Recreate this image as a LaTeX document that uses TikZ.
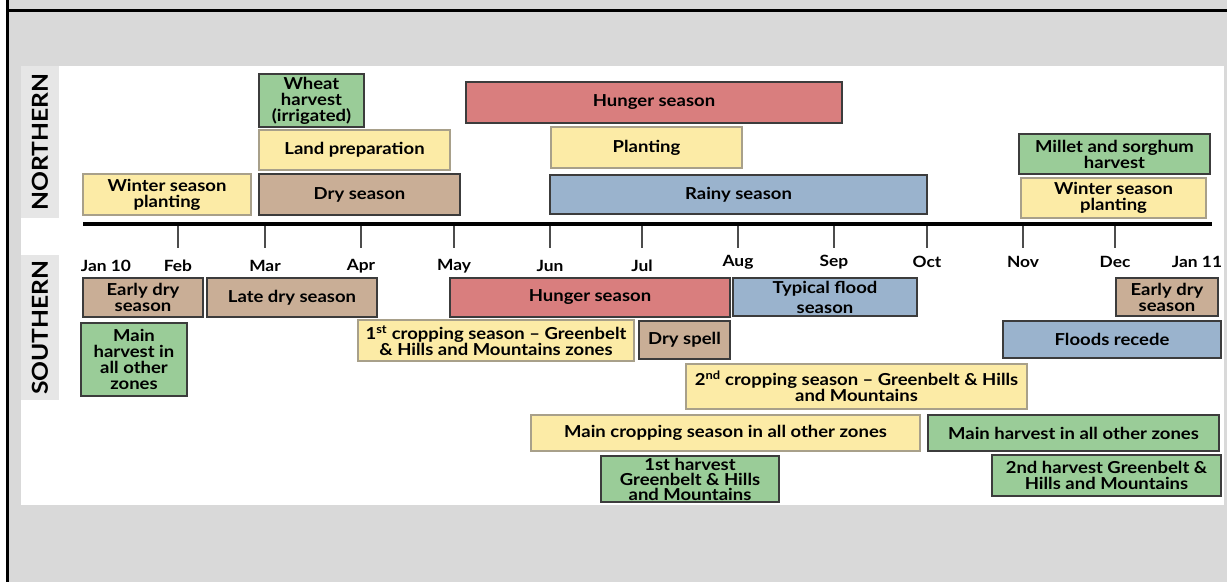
\documentclass[tikz,border=0pt]{standalone}
\usepackage{fontspec}
\setmainfont{Lato}[FakeStretch=1.12]
\definecolor{pageGray}{HTML}{D9D9D9}
\definecolor{sideGray}{HTML}{E6E6E6}
\definecolor{edgeDark}{HTML}{3C3C3C}
\definecolor{edgeLight}{HTML}{A8A08A}
\definecolor{cropYellow}{HTML}{FCEBA6}
\definecolor{harvGreen}{HTML}{9ACC98}
\definecolor{hungerRed}{HTML}{D97E7E}
\definecolor{dryTan}{HTML}{C9AE96}
\definecolor{wetBlue}{HTML}{9AB3CD}
\begin{document}
\begin{tikzpicture}[x=1pt, y=-1pt, font=\bfseries\fontsize{16.5}{16}\selectfont,
  box/.style={draw=edgeDark, line width=1.3pt, inner sep=0pt, align=center},
  wh/.style 2 args={minimum width=#1pt, minimum height=#2pt},
  yellowbox/.style={box, fill=cropYellow, draw=edgeLight},
  greenbox/.style={box, fill=harvGreen},
  redbox/.style={box, fill=hungerRed},
  tanbox/.style={box, fill=dryTan},
  bluebox/.style={box, fill=wetBlue},
  month/.style={inner sep=0pt, font=\bfseries\fontsize{15.5}{16}\selectfont},
  tick/.style={draw=black!70, line width=1.2pt},
  side/.style={fill=sideGray, rotate=90, inner sep=0pt, font=\bfseries\fontsize{22}{22}\selectfont}]
  \useasboundingbox (0,0) rectangle (1227,582);
  % page and white panel
  \fill[pageGray] (7,0) rectangle (1227,582);
  \draw[line width=3pt] (7,0) -- (7,582);
  \draw[line width=3pt] (7,10) -- (1227,10);
  \fill[white] (21,66) rectangle (1224,505);
  % region labels
  \node[side, wh={152}{38}] (north) at (40,142) {NORTHERN};
  \node[side, wh={145}{38}] (south) at (40,327.5) {SOUTHERN};
  % time axis
  \coordinate (axL) at (83,224);
  \coordinate (axR) at (1212,224);
  \draw[line width=4pt] (axL) -- (axR);
  \node[month] (mJanA) at (106,266) {Jan 10};
  \node[month] (mJanB) at (1197,262) {Jan 11};
  \foreach \x/\m/\yy in {178/Feb/266, 265/Mar/266, 361/Apr/266, 454/May/266, 550/Jun/266, 642/Jul/266,
      738/Aug/262, 834/Sep/262, 927/Oct/262, 1023/Nov/262, 1115/Dec/262} {
    \node[month] (m\m) at (\x,\yy) {\m};
    \coordinate (t\m) at (\x,226);
    \draw[tick] (t\m) -- ++(0,22);
  }
  % northern calendar
  \node[greenbox, wh={105}{53}] (nWheat) at (311.5,100.5) {Wheat\\harvest\\(irrigated)};
  \node[yellowbox, wh={191}{40}] (nLand) at (354.5,150) {Land preparation};
  \node[tanbox, wh={201}{41}] (nDry) at (359.5,194.5) {Dry season};
  \node[yellowbox, wh={168}{41}] (nWinterL) at (167,194.5) {Winter season\\planting};
  \node[redbox, wh={376}{41}] (nHunger) at (654,102.5) {Hunger season};
  \node[yellowbox, wh={191}{41}] (nPlant) at (646.5,147.5) {Planting};
  \node[bluebox, wh={377}{39}] (nRainy) at (738.5,194.5) {Rainy season};
  \node[greenbox, wh={191}{40}] (nMillet) at (1114.5,154) {Millet and sorghum\\harvest};
  \node[yellowbox, wh={185}{40}] (nWinterR) at (1113.5,198) {Winter season\\planting};
  % southern calendar
  \node[tanbox, wh={120}{39}] (sEarlyL) at (143,297.5) {Early dry\\season};
  \node[tanbox, wh={170}{39}] (sLate) at (292,297.5) {Late dry season};
  \node[greenbox, wh={106}{73}] (sHarvL) at (134,359.5) {Main\\harvest in\\all other\\zones};
  \node[yellowbox, wh={276}{41}] (sCrop1) at (496,340.5) {1\textsuperscript{st} cropping season -- Greenbelt\\\& Hills and Mountains zones};
  \node[redbox, wh={280}{39}] (sHunger) at (590,297.5) {Hunger season};
  \node[tanbox, wh={91}{38}] (sDrySpell) at (684.5,340) {Dry spell};
  \node[bluebox, wh={184}{38}, font=\bfseries\fontsize{16.5}{20}\selectfont] (sFlood) at (825,297) {Typical flood\\season};
  \node[tanbox, wh={102}{38}] (sEarlyR) at (1167,297) {Early dry\\season};
  \node[bluebox, wh={218}{37}] (sRecede) at (1112,339.5) {Floods recede};
  \node[yellowbox, wh={341}{45}] (sCrop2) at (856.5,386.5) {2\textsuperscript{nd} cropping season -- Greenbelt \& Hills\\and Mountains};
  \node[yellowbox, wh={389}{36}] (sMainCrop) at (725.5,433) {Main cropping season in all other zones};
  \node[greenbox, wh={291}{36}] (sHarvR) at (1073.5,433) {Main harvest in all other zones};
  \node[greenbox, wh={178}{46}, font=\bfseries\fontsize{16.5}{15}\selectfont] (sHarv1) at (690,479) {1st harvest\\Greenbelt \& Hills\\and Mountains};
  \node[greenbox, wh={229}{41}] (sHarv2) at (1106.5,475.5) {2nd harvest Greenbelt \&\\Hills and Mountains};
\end{tikzpicture}
\end{document}
